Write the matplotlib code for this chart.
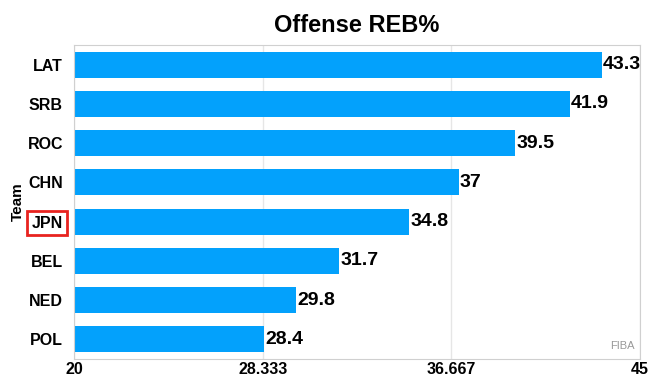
import numpy as np
import matplotlib.pyplot as plt

teams = ["LAT", "SRB", "ROC", "CHN", "JPN", "BEL", "NED", "POL"]
oreb_pct = [43.3, 41.9, 39.5, 37, 34.8, 31.7, 29.8, 28.4]
xticks = [20, 28.333, 36.667, 45]
xtick_labels = ["20", "28.333", "36.667", "45"]

plt.rcParams['font.family'] = ['Liberation Sans', 'DejaVu Sans']

fig = plt.figure(figsize=(6.6, 3.79), dpi=100)
ax = fig.add_axes([74/660, 1 - 359/379, 566/660, 314/379])

y = np.arange(len(teams))
ax.barh(y, [v - 20 for v in oreb_pct], left=20, height=0.66, color='#03A1FC', zorder=2)
for yi, v in zip(y, oreb_pct):
    ax.text(v + 0.05, yi, "%g" % v, va='center', ha='left', fontsize=14, fontweight='bold', zorder=3)

ax.set_xlim(20, 45)
ax.set_ylim(len(teams) - 0.5, -0.5)
ax.set_yticks(y)
ax.set_yticklabels(teams, fontsize=11.5, fontweight='bold')
ax.set_xticks(xticks)
ax.set_xticklabels(xtick_labels, fontsize=11.5, fontweight='bold')
ax.tick_params(axis='y', length=0, pad=8)
ax.tick_params(axis='x', length=0, pad=2)
ax.xaxis.grid(True, color='#e6e6e6', lw=1, zorder=0)
for s in ax.spines.values():
    s.set_color('#d0d0d0')

ax.set_ylabel('Team', fontsize=11, fontweight='bold', labelpad=2)
ax.set_title('Offense REB%', fontsize=17, fontweight='bold', pad=9)

# highlight Japan
for lab in ax.get_yticklabels():
    if lab.get_text() == "JPN":
        lab.set_bbox(dict(facecolor='white', edgecolor='#e8231f', linewidth=2, pad=3))

ax.text(0.99, 0.025, "FIBA", transform=ax.transAxes, ha='right', va='bottom',
        fontsize=8, color='#999999')

fig.savefig("out.png", dpi=100)
